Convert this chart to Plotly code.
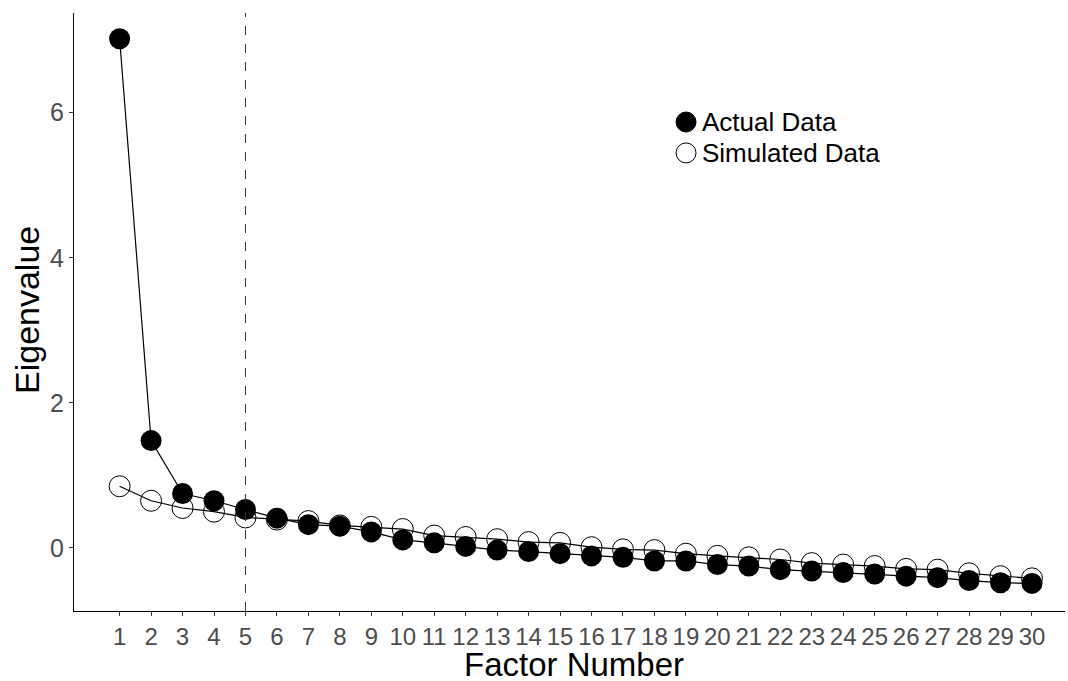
import plotly.graph_objects as go

factors = list(range(1, 31))
actual = [7.02, 1.48, 0.75, 0.65, 0.53, 0.41, 0.32, 0.30, 0.22, 0.11,
          0.07, 0.02, -0.03, -0.05, -0.08, -0.11, -0.13, -0.18, -0.18, -0.23,
          -0.25, -0.30, -0.32, -0.34, -0.36, -0.39, -0.41, -0.45, -0.48, -0.49]
simulated = [0.85, 0.65, 0.55, 0.50, 0.42, 0.39, 0.37, 0.31, 0.29, 0.26,
             0.17, 0.15, 0.12, 0.08, 0.07, 0.01, -0.02, -0.03, -0.08, -0.11,
             -0.13, -0.16, -0.21, -0.23, -0.25, -0.29, -0.30, -0.35, -0.39, -0.42]
cutoff = 5
y_ticks = [0, 2, 4, 6]
legend_labels = ["Actual Data", "Simulated Data"]

fig = go.Figure()
fig.add_trace(go.Scatter(x=factors, y=simulated, mode="lines",
                         line=dict(color="black", width=1.2), showlegend=False, hoverinfo="skip"))
fig.add_trace(go.Scatter(x=factors, y=actual, mode="lines",
                         line=dict(color="black", width=1.2), showlegend=False, hoverinfo="skip"))
fig.add_trace(go.Scatter(x=factors, y=simulated, mode="markers", name=legend_labels[1],
                         showlegend=False,
                         marker=dict(symbol="circle-open", size=21, color="black",
                                     line=dict(width=1, color="black"))))
fig.add_trace(go.Scatter(x=factors, y=actual, mode="markers", name=legend_labels[0],
                         showlegend=False,
                         marker=dict(symbol="circle", size=21, color="black")))

fig.add_vline(x=cutoff, line=dict(color="#333333", width=1, dash="dash"))

# manual legend (paper coordinates)
leg_x = 0.6176
leg_y = [0.8177, 0.766]
for i, (lab, yy) in enumerate(zip(legend_labels, leg_y)):
    fill = "black" if i == 0 else "white"
    fig.add_shape(type="circle", xref="paper", yref="paper",
                  xsizemode="pixel", ysizemode="pixel",
                  xanchor=leg_x, yanchor=yy, x0=-10, x1=10, y0=-10, y1=10,
                  fillcolor=fill, line=dict(color="black", width=1))
    fig.add_annotation(x=leg_x, y=yy, xref="paper", yref="paper", text=lab,
                       showarrow=False, xanchor="left", yanchor="middle", xshift=14,
                       font=dict(size=26, color="black"))

# axis titles
fig.add_annotation(x=0.5, y=0, xref="paper", yref="paper", text="Factor Number",
                   showarrow=False, xanchor="center", yanchor="middle", xshift=4, yshift=-53,
                   font=dict(size=33, color="black"))
fig.add_annotation(x=0, y=0.5, xref="paper", yref="paper", text="Eigenvalue",
                   showarrow=False, xanchor="center", yanchor="middle", xshift=-47, yshift=2,
                   textangle=-90, font=dict(size=34, color="black"))

fig.update_layout(
    width=1068, height=681,
    margin=dict(l=74, r=3, t=13, b=70),
    paper_bgcolor="white", plot_bgcolor="white",
    font=dict(family="Liberation Sans, Arial, sans-serif"),
    showlegend=False,
    xaxis=dict(range=[-0.45, 31.05], tickmode="array", tickvals=factors,
               ticktext=[str(f) for f in factors], automargin=False,
               showgrid=False, zeroline=False, showline=True, linecolor="black", linewidth=1,
               ticks="outside", ticklen=4, tickcolor="#333333",
               tickfont=dict(size=24, color="#4D4D4D")),
    yaxis=dict(range=[-0.87, 7.375], tickmode="array", tickvals=y_ticks, automargin=False,
               showgrid=False, zeroline=False, showline=True, linecolor="black", linewidth=1,
               ticks="outside", ticklen=4, tickcolor="#333333",
               tickfont=dict(size=25, color="#4D4D4D")),
)

fig.write_html("out.html", post_script="document.body.style.margin='0';",
               config={"displayModeBar": False})
